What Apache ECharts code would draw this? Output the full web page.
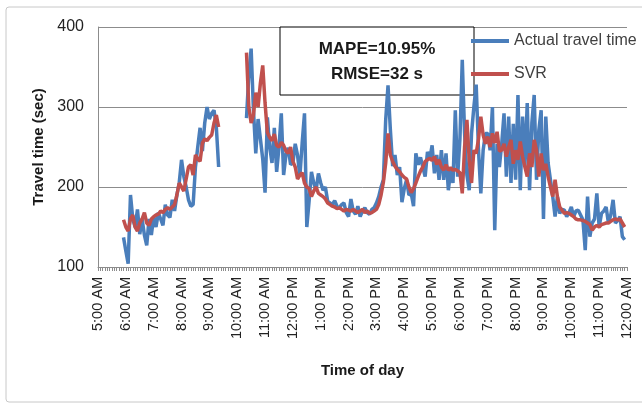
<!DOCTYPE html>
<html>
<head>
<meta charset="utf-8">
<script src="https://cdn.jsdelivr.net/npm/echarts@6/dist/echarts.min.js"></script>
<style>
  html, body { margin: 0; padding: 0; background: #ffffff; }
  #chart { width: 642px; height: 404px; }
</style>
</head>
<body>
<div id="chart"></div>
<script>
// Time axis: 5-minute slots from 5:00 AM to 12:00 AM (midnight)
const startMinute = 5 * 60;
const stepMinutes = 5;
const slotCount = 229;

// Observed travel times (sec), morning block starts at slot 11 (5:55 AM)
const morningStart = 11;
const actualMorning = [137,120,104,190,160,150,172,141,160,140,127,160,140,163,150,168,160,152,178,165,162,184,170,190,205,234,213,200,184,176,178,225,250,274,245,280,300,285,292,296,275,225];
const svrMorning = [159,150,145,160,165,150,145,155,160,168,155,152,160,163,165,166,170,168,172,174,172,175,178,190,205,200,195,210,225,228,215,240,235,232,255,260,258,262,265,280,290,275];

// Daytime block starts at slot 64 (10:20 AM)
const dayStart = 64;
const actualDay = [
  286,340,373,296,242,285,260,235,193,287,
  250,230,274,219,250,292,215,240,249,228,
  230,254,240,213,255,292,150,183,219,205,
  196,217,205,196,200,182,180,
  178,183,176,174,178,180,168,163,185,170,
  166,176,163,170,174,168,166,172,174,180,
  188,200,209,284,327,272,226,240,215,225,
  181,198,209,190,
  192,176,242,228,237,225,213,244,235,252,
  217,240,209,246,209,242,196,221,205,296,
  213,260,359,267,215,196,267,300,328,246,
  192,246,267,267,246,300,146,254,225,254,
  292,213,288,205,279,
  209,315,196,288,225,305,196,280,315,209,
  271,296,160,288,230,209,188,163,188,167,
  172,171,163,168,175,163,170,171,165,159,
  121,188,138,155,160,192,150,167,170,175,
  155,165,184,155,158,163,138,134
];
const svrDay = [
  368,300,280,290,318,300,330,352,305,268,
  262,258,266,252,250,256,252,245,242,250,
  232,225,210,215,218,205,200,198,188,195,
  200,192,190,188,185,180,178,
  176,175,173,174,172,170,172,171,170,172,
  170,168,170,172,168,170,167,168,170,172,
  178,190,206,230,267,240,232,226,222,219,
  215,212,210,200,
  193,198,205,213,220,225,232,234,236,233,
  238,228,234,225,221,228,221,224,221,222,
  220,218,192,250,284,234,205,246,242,260,
  288,265,254,263,250,267,255,269,245,246,
  254,238,250,259,229,
  246,234,257,238,225,213,242,225,259,246,
  213,242,221,229,213,200,188,209,188,175,
  171,167,168,167,165,163,160,159,159,158,
  157,155,153,146,150,152,150,153,154,155,
  155,157,159,160,159,160,155,150
];

const yTicks = { min: 100, max: 400, step: 100 };
const statLines = ['MAPE=10.95%', 'RMSE=32 s'];

function clockLabel(m) {
  const h = Math.floor(m / 60) % 24;
  const mm = m % 60;
  let h12 = h % 12;
  if (h12 === 0) h12 = 12;
  return h12 + ':' + String(mm).padStart(2, '0') + ' ' + (h < 12 ? 'AM' : 'PM');
}

const categories = [];
for (let k = 0; k < slotCount; k++) categories.push(clockLabel(startMinute + k * stepMinutes));

// Place the blocks on the full time axis, leaving gaps where nothing was recorded
function placeBlocks(blocks) {
  const out = new Array(slotCount).fill(null);
  blocks.forEach(([start, vals]) => vals.forEach((v, j) => { out[start + j] = v; }));
  return out;
}
const actualSeries = placeBlocks([[morningStart, actualMorning], [dayStart, actualDay]]);
const svrSeries = placeBlocks([[morningStart, svrMorning], [dayStart, svrDay]]);

const FONT = 'Liberation Sans';
const chart = echarts.init(document.getElementById('chart'), null, { renderer: 'canvas' });

chart.setOption({
  animation: false,
  backgroundColor: '#ffffff',
  textStyle: { fontFamily: FONT },
  grid: { left: 98, right: 15, top: 27, bottom: 137, containLabel: false },
  legend: {
    data: ['Actual travel time', 'SVR'],
    orient: 'vertical',
    left: 471,
    top: 33,
    padding: 0,
    itemWidth: 38,
    itemHeight: 4,
    itemGap: 17,
    icon: 'rect',
    textStyle: { fontFamily: FONT, fontSize: 16, color: '#404040', lineHeight: 16 }
  },
  xAxis: {
    type: 'category',
    data: categories,
    boundaryGap: false,
    name: 'Time of day',
    nameLocation: 'middle',
    nameGap: 96,
    nameTextStyle: { fontFamily: FONT, fontSize: 15, fontWeight: 'bold', color: '#1a1a1a' },
    axisLine: { lineStyle: { color: '#8c8c8c', width: 1 } },
    axisTick: { show: true, interval: 0, length: 4, lineStyle: { color: '#8c8c8c' } },
    axisLabel: {
      interval: 11,
      rotate: 90,
      margin: 10,
      fontFamily: FONT,
      fontSize: 14.5,
      color: '#222222'
    },
    splitLine: { show: false }
  },
  yAxis: {
    type: 'value',
    min: yTicks.min,
    max: yTicks.max,
    interval: yTicks.step,
    name: 'Travel time (sec)',
    nameLocation: 'middle',
    nameRotate: 90,
    nameGap: 51,
    nameTextStyle: { fontFamily: FONT, fontSize: 15, fontWeight: 'bold', color: '#1a1a1a' },
    axisLine: { show: true, lineStyle: { color: '#8c8c8c', width: 1 } },
    axisTick: { show: false },
    axisLabel: { margin: 14, fontFamily: FONT, fontSize: 16, color: '#222222' },
    splitLine: { show: true, lineStyle: { color: '#8c8c8c', width: 1 } }
  },
  series: [
    {
      name: 'Actual travel time',
      type: 'line',
      data: actualSeries,
      symbol: 'none',
      connectNulls: false,
      color: '#4a7ebb',
      lineStyle: { width: 3.5, color: '#4a7ebb' },
      z: 3
    },
    {
      name: 'SVR',
      type: 'line',
      data: svrSeries,
      symbol: 'none',
      connectNulls: false,
      color: '#c0504d',
      lineStyle: { width: 3.5, color: '#c0504d' },
      z: 4
    }
  ],
  graphic: [
    {
      type: 'rect',
      silent: true,
      z: 0,
      shape: { x: 6, y: 7, width: 640, height: 395, r: 3 },
      style: { fill: 'none', stroke: '#c8c8c8', lineWidth: 1 }
    },
    {
      type: 'rect',
      z: 1,
      shape: { x: 280, y: 27, width: 194, height: 68 },
      style: { fill: '#ffffff', stroke: '#000000', lineWidth: 1 }
    },
    {
      type: 'text',
      z: 2,
      x: 377,
      y: 49,
      style: { text: statLines[0], fontFamily: FONT, fontSize: 17, fontWeight: 'bold', fill: '#1a1a1a', align: 'center', verticalAlign: 'middle' }
    },
    {
      type: 'text',
      z: 2,
      x: 377,
      y: 74,
      style: { text: statLines[1], fontFamily: FONT, fontSize: 17, fontWeight: 'bold', fill: '#1a1a1a', align: 'center', verticalAlign: 'middle' }
    }
  ]
});
</script>
</body>
</html>
